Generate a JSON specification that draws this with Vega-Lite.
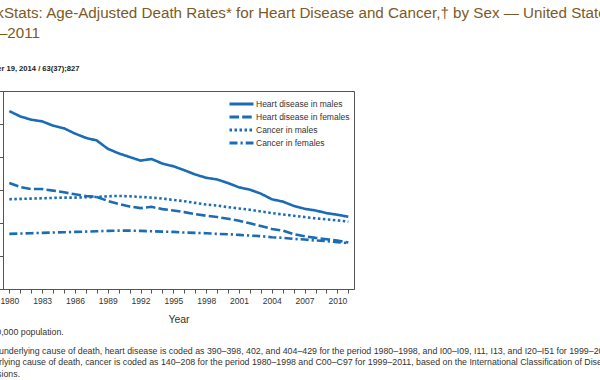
{
  "$schema": "https://vega.github.io/schema/vega-lite/v6.json",
  "autosize": "none",
  "width": 351,
  "height": 198,
  "padding": {"left": 3, "top": 91, "right": 246, "bottom": 91},
  "background": "white",
  "title": {
    "text": ["QuickStats: Age-Adjusted Death Rates* for Heart Disease and Cancer,† by Sex — United States,", "1980–2011"],
    "subtitle": ["Weekly", "September 19, 2014 / 63(37);827"],
    "anchor": "start",
    "frame": "group",
    "dx": -37.9,
    "offset": 18,
    "font": "Liberation Sans",
    "fontSize": 15.2,
    "fontWeight": "normal",
    "color": "#7b5a26",
    "lineHeight": 20,
    "subtitleFont": "Liberation Sans",
    "subtitleFontSize": 7.6,
    "subtitleFontWeight": "bold",
    "subtitleColor": "#222222",
    "subtitleLineHeight": 14,
    "subtitlePadding": 10
  },
  "data": {
    "values": [
      {"year": 1980, "series": "Heart disease in males", "rate": 539},
      {"year": 1981, "series": "Heart disease in males", "rate": 523},
      {"year": 1982, "series": "Heart disease in males", "rate": 513},
      {"year": 1983, "series": "Heart disease in males", "rate": 508},
      {"year": 1984, "series": "Heart disease in males", "rate": 495},
      {"year": 1985, "series": "Heart disease in males", "rate": 487},
      {"year": 1986, "series": "Heart disease in males", "rate": 471},
      {"year": 1987, "series": "Heart disease in males", "rate": 458},
      {"year": 1988, "series": "Heart disease in males", "rate": 450},
      {"year": 1989, "series": "Heart disease in males", "rate": 425},
      {"year": 1990, "series": "Heart disease in males", "rate": 411},
      {"year": 1991, "series": "Heart disease in males", "rate": 400},
      {"year": 1992, "series": "Heart disease in males", "rate": 389},
      {"year": 1993, "series": "Heart disease in males", "rate": 394},
      {"year": 1994, "series": "Heart disease in males", "rate": 380},
      {"year": 1995, "series": "Heart disease in males", "rate": 372},
      {"year": 1996, "series": "Heart disease in males", "rate": 360},
      {"year": 1997, "series": "Heart disease in males", "rate": 347},
      {"year": 1998, "series": "Heart disease in males", "rate": 337},
      {"year": 1999, "series": "Heart disease in males", "rate": 332},
      {"year": 2000, "series": "Heart disease in males", "rate": 321},
      {"year": 2001, "series": "Heart disease in males", "rate": 308},
      {"year": 2002, "series": "Heart disease in males", "rate": 301},
      {"year": 2003, "series": "Heart disease in males", "rate": 289},
      {"year": 2004, "series": "Heart disease in males", "rate": 272},
      {"year": 2005, "series": "Heart disease in males", "rate": 265},
      {"year": 2006, "series": "Heart disease in males", "rate": 252},
      {"year": 2007, "series": "Heart disease in males", "rate": 243},
      {"year": 2008, "series": "Heart disease in males", "rate": 238},
      {"year": 2009, "series": "Heart disease in males", "rate": 230},
      {"year": 2010, "series": "Heart disease in males", "rate": 225},
      {"year": 2011, "series": "Heart disease in males", "rate": 219},
      {"year": 1980, "series": "Heart disease in females", "rate": 321},
      {"year": 1981, "series": "Heart disease in females", "rate": 309},
      {"year": 1982, "series": "Heart disease in females", "rate": 303},
      {"year": 1983, "series": "Heart disease in females", "rate": 303},
      {"year": 1984, "series": "Heart disease in females", "rate": 298},
      {"year": 1985, "series": "Heart disease in females", "rate": 293},
      {"year": 1986, "series": "Heart disease in females", "rate": 287},
      {"year": 1987, "series": "Heart disease in females", "rate": 282},
      {"year": 1988, "series": "Heart disease in females", "rate": 279},
      {"year": 1989, "series": "Heart disease in females", "rate": 267},
      {"year": 1990, "series": "Heart disease in females", "rate": 258},
      {"year": 1991, "series": "Heart disease in females", "rate": 250},
      {"year": 1992, "series": "Heart disease in females", "rate": 245},
      {"year": 1993, "series": "Heart disease in females", "rate": 249},
      {"year": 1994, "series": "Heart disease in females", "rate": 242},
      {"year": 1995, "series": "Heart disease in females", "rate": 238},
      {"year": 1996, "series": "Heart disease in females", "rate": 233},
      {"year": 1997, "series": "Heart disease in females", "rate": 227},
      {"year": 1998, "series": "Heart disease in females", "rate": 222},
      {"year": 1999, "series": "Heart disease in females", "rate": 218},
      {"year": 2000, "series": "Heart disease in females", "rate": 213},
      {"year": 2001, "series": "Heart disease in females", "rate": 207},
      {"year": 2002, "series": "Heart disease in females", "rate": 199},
      {"year": 2003, "series": "Heart disease in females", "rate": 191},
      {"year": 2004, "series": "Heart disease in females", "rate": 182},
      {"year": 2005, "series": "Heart disease in females", "rate": 177},
      {"year": 2006, "series": "Heart disease in females", "rate": 166},
      {"year": 2007, "series": "Heart disease in females", "rate": 160},
      {"year": 2008, "series": "Heart disease in females", "rate": 155},
      {"year": 2009, "series": "Heart disease in females", "rate": 151},
      {"year": 2010, "series": "Heart disease in females", "rate": 147},
      {"year": 2011, "series": "Heart disease in females", "rate": 141},
      {"year": 1980, "series": "Cancer in males", "rate": 272},
      {"year": 1981, "series": "Cancer in males", "rate": 273},
      {"year": 1982, "series": "Cancer in males", "rate": 274},
      {"year": 1983, "series": "Cancer in males", "rate": 275},
      {"year": 1984, "series": "Cancer in males", "rate": 276},
      {"year": 1985, "series": "Cancer in males", "rate": 277},
      {"year": 1986, "series": "Cancer in males", "rate": 277},
      {"year": 1987, "series": "Cancer in males", "rate": 278},
      {"year": 1988, "series": "Cancer in males", "rate": 279},
      {"year": 1989, "series": "Cancer in males", "rate": 281},
      {"year": 1990, "series": "Cancer in males", "rate": 282},
      {"year": 1991, "series": "Cancer in males", "rate": 281},
      {"year": 1992, "series": "Cancer in males", "rate": 279},
      {"year": 1993, "series": "Cancer in males", "rate": 277},
      {"year": 1994, "series": "Cancer in males", "rate": 274},
      {"year": 1995, "series": "Cancer in males", "rate": 270},
      {"year": 1996, "series": "Cancer in males", "rate": 266},
      {"year": 1997, "series": "Cancer in males", "rate": 261},
      {"year": 1998, "series": "Cancer in males", "rate": 256},
      {"year": 1999, "series": "Cancer in males", "rate": 253},
      {"year": 2000, "series": "Cancer in males", "rate": 248},
      {"year": 2001, "series": "Cancer in males", "rate": 244},
      {"year": 2002, "series": "Cancer in males", "rate": 240},
      {"year": 2003, "series": "Cancer in males", "rate": 235},
      {"year": 2004, "series": "Cancer in males", "rate": 230},
      {"year": 2005, "series": "Cancer in males", "rate": 226},
      {"year": 2006, "series": "Cancer in males", "rate": 222},
      {"year": 2007, "series": "Cancer in males", "rate": 218},
      {"year": 2008, "series": "Cancer in males", "rate": 214},
      {"year": 2009, "series": "Cancer in males", "rate": 211},
      {"year": 2010, "series": "Cancer in males", "rate": 208},
      {"year": 2011, "series": "Cancer in males", "rate": 204},
      {"year": 1980, "series": "Cancer in females", "rate": 167},
      {"year": 1981, "series": "Cancer in females", "rate": 168},
      {"year": 1982, "series": "Cancer in females", "rate": 169},
      {"year": 1983, "series": "Cancer in females", "rate": 170},
      {"year": 1984, "series": "Cancer in females", "rate": 171},
      {"year": 1985, "series": "Cancer in females", "rate": 172},
      {"year": 1986, "series": "Cancer in females", "rate": 173},
      {"year": 1987, "series": "Cancer in females", "rate": 174},
      {"year": 1988, "series": "Cancer in females", "rate": 175},
      {"year": 1989, "series": "Cancer in females", "rate": 176},
      {"year": 1990, "series": "Cancer in females", "rate": 177},
      {"year": 1991, "series": "Cancer in females", "rate": 177},
      {"year": 1992, "series": "Cancer in females", "rate": 176},
      {"year": 1993, "series": "Cancer in females", "rate": 175},
      {"year": 1994, "series": "Cancer in females", "rate": 174},
      {"year": 1995, "series": "Cancer in females", "rate": 173},
      {"year": 1996, "series": "Cancer in females", "rate": 171},
      {"year": 1997, "series": "Cancer in females", "rate": 170},
      {"year": 1998, "series": "Cancer in females", "rate": 169},
      {"year": 1999, "series": "Cancer in females", "rate": 167},
      {"year": 2000, "series": "Cancer in females", "rate": 166},
      {"year": 2001, "series": "Cancer in females", "rate": 164},
      {"year": 2002, "series": "Cancer in females", "rate": 162},
      {"year": 2003, "series": "Cancer in females", "rate": 160},
      {"year": 2004, "series": "Cancer in females", "rate": 157},
      {"year": 2005, "series": "Cancer in females", "rate": 155},
      {"year": 2006, "series": "Cancer in females", "rate": 152},
      {"year": 2007, "series": "Cancer in females", "rate": 150},
      {"year": 2008, "series": "Cancer in females", "rate": 147},
      {"year": 2009, "series": "Cancer in females", "rate": 145},
      {"year": 2010, "series": "Cancer in females", "rate": 142},
      {"year": 2011, "series": "Cancer in females", "rate": 139}
    ]
  },
  "layer": [
    {
      "mark": {"type": "line", "color": "#1a6cb6", "strokeWidth": 2.6, "strokeCap": "butt"},
      "encoding": {
        "x": {
          "field": "year",
          "type": "quantitative",
          "scale": {"domain": [1979.42, 2011.52], "nice": false, "zero": false},
          "axis": {
            "title": "Year",
            "values": [1980, 1981, 1982, 1983, 1984, 1985, 1986, 1987, 1988, 1989, 1990, 1991, 1992, 1993, 1994, 1995, 1996, 1997, 1998, 1999, 2000, 2001, 2002, 2003, 2004, 2005, 2006, 2007, 2008, 2009, 2010, 2011],
            "format": "d",
            "labelExpr": "(datum.value - 1980) % 3 == 0 ? datum.label : ''",
            "labelOverlap": false,
            "labelFlush": false,
            "tickSize": 4,
            "labelFontSize": 8.5,
            "labelPadding": 3,
            "titleFontSize": 10.5,
            "titleFontWeight": "normal",
            "titlePadding": 10
          }
        },
        "y": {
          "field": "rate",
          "type": "quantitative",
          "scale": {"domain": [0, 600], "nice": false, "zero": true},
          "axis": {
            "title": null,
            "labels": false,
            "values": [0, 100, 200, 300, 400, 500, 600],
            "tickSize": 4
          }
        },
        "strokeDash": {
          "field": "series",
          "type": "nominal",
          "scale": {
            "domain": ["Heart disease in males", "Heart disease in females", "Cancer in males", "Cancer in females"],
            "range": [[1, 0], [9.5, 3.2], [2.5, 2.5], [8, 3, 2.2, 3]]
          },
          "legend": {
            "orient": "none",
            "legendX": 232,
            "legendY": 6.5,
            "title": null,
            "symbolType": "M-2.4,0H2.4",
            "symbolSize": 100,
            "symbolStrokeWidth": 2.8,
            "symbolStrokeColor": "#1a6cb6",
            "rowPadding": 0,
            "labelFont": "Liberation Sans",
            "labelFontSize": 8.5,
            "labelColor": "#333333",
            "labelOffset": 8,
            "padding": 0
          }
        }
      }
    },
    {
      "mark": {"type": "line", "strokeOpacity": 0},
      "encoding": {
        "x": {
          "field": "year",
          "type": "quantitative",
          "axis": {
            "orient": "bottom",
            "labels": false,
            "ticks": false,
            "domain": false,
            "grid": false,
            "title": "* Per 100,000 population.",
            "titleX": -39,
            "titleY": 38,
            "titleAlign": "left",
            "titleAnchor": "start",
            "titleBaseline": "top",
            "titleAngle": 0,
            "titleFontSize": 8.8,
            "titleFontWeight": "normal",
            "titleColor": "#333333"
          }
        },
        "y": {
          "field": "rate",
          "type": "quantitative",
          "axis": {
            "orient": "left",
            "labels": false,
            "ticks": false,
            "domain": false,
            "grid": false,
            "title": [
              "† As underlying cause of death, heart disease is coded as 390–398, 402, and 404–429 for the period 1980–1998, and I00–I09, I11, I13, and I20–I51 for 1999–2011. As",
              "underlying cause of death, cancer is coded as 140–208 for the period 1980–1998 and C00–C97 for 1999–2011, based on the International Classification of Diseases, Ninth and Tenth",
              "Revisions."
            ],
            "titleX": -24,
            "titleY": 255,
            "titleAlign": "left",
            "titleAnchor": "start",
            "titleBaseline": "top",
            "titleAngle": 0,
            "titleFontSize": 8.8,
            "titleFontWeight": "normal",
            "titleColor": "#333333",
            "titleLineHeight": 11.5
          }
        }
      }
    }
  ],
  "resolve": {"axis": {"x": "independent", "y": "independent"}},
  "config": {
    "view": {"stroke": "#555555", "strokeWidth": 1},
    "axis": {
      "domainColor": "#555555",
      "tickColor": "#555555",
      "grid": false,
      "labelFont": "Liberation Sans",
      "titleFont": "Liberation Sans",
      "labelColor": "#333333",
      "titleColor": "#333333"
    }
  }
}
